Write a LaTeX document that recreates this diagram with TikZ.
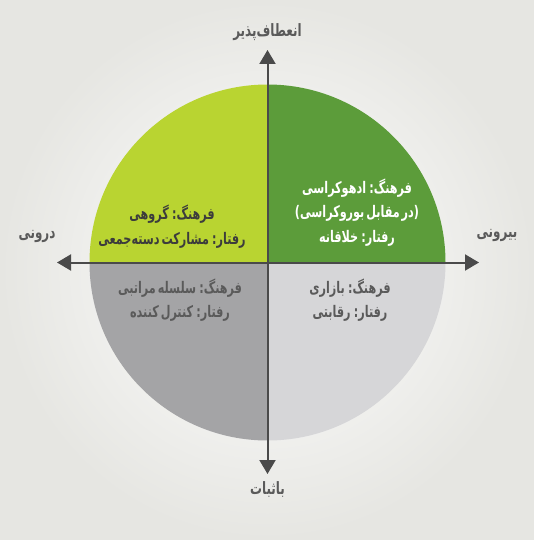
\documentclass[tikz,border=0pt]{standalone}
\usepackage{fontspec}
\TeXXeTstate=1
\newfontfamily\fafont[Script=Arabic,FakeStretch=0.7,WordSpace=0.5]{DejaVu Sans}
\usetikzlibrary{arrows.meta}
\definecolor{bgc}{HTML}{E6E6E2}
\definecolor{qtl}{HTML}{B9D431}
\definecolor{qtr}{HTML}{5C9C3A}
\definecolor{qbl}{HTML}{A4A4A6}
\definecolor{qbr}{HTML}{D6D6D8}
\definecolor{axc}{HTML}{4A4A4A}
\definecolor{labc}{HTML}{5A5A5A}
\definecolor{tdark}{HTML}{3C3C3C}
\newcommand{\rtltxt}[1]{\beginR #1\endR}
\tikzset{
  axisline/.style={draw=axc, line width=2pt, -{Triangle[width=16pt,length=14pt]}},
  axlabel/.style={text=labc, font=\fafont\bfseries\fontsize{17}{19}\selectfont, inner sep=0pt},
  qtext/.style={align=center, font=\fafont\bfseries\fontsize{16}{24.5}\selectfont, inner sep=0pt},
}
\begin{document}
\begin{tikzpicture}[x=1pt,y=-1pt]
\useasboundingbox (0,0) rectangle (534,540);
\shade[inner color=white, outer color=bgc] (0,0) rectangle (534,540);
\coordinate (c) at (267.5,262.5);
\begin{scope}
\clip (c) circle (178pt);
\fill[qtl] (0,0) rectangle (c);
\fill[qtr] (534,0) rectangle (c);
\fill[qbl] (0,540) rectangle (c);
\fill[qbr] (534,540) rectangle (c);
\end{scope}
\coordinate (top) at (267.5,50);
\coordinate (bot) at (267.5,474);
\coordinate (lft) at (57,262.5);
\coordinate (rgt) at (479,262.5);
\draw[axisline] (c) -- (top);
\draw[axisline] (c) -- (bot);
\draw[axisline] (c) -- (lft);
\draw[axisline] (c) -- (rgt);
\node[axlabel] (ltop) at (267.5,32) {\rtltxt{انعطاف‌پذیر}};
\node[axlabel] (lbot) at (267.5,490) {\rtltxt{باثبات}};
\node[axlabel] (llft) at (37,236) {\rtltxt{درونی}};
\node[axlabel] (lrgt) at (497,235) {\rtltxt{بیرونی}};
\node[qtext, text=tdark] (ttl) at (172,226.5) {\rtltxt{فرهنگ: گروهی}\\\rtltxt{رفتار: مشارکت دسته‌جمعی}};
\node[qtext, text=white] (ttr) at (357,212.5) {\rtltxt{فرهنگ: ادهوکراسی}\\\rtltxt{(در مقابل بوروکراسی)}\\\rtltxt{رفتار: خلاقانه}};
\node[qtext, text=labc] (tbl) at (180,300) {\rtltxt{فرهنگ: سلسله مراتبی}\\\rtltxt{رفتار: کنترل کننده}};
\node[qtext, text=labc] (tbr) at (350,300) {\rtltxt{فرهنگ: بازاری}\\\rtltxt{رفتار: رقابتی}};
\end{tikzpicture}
\end{document}
